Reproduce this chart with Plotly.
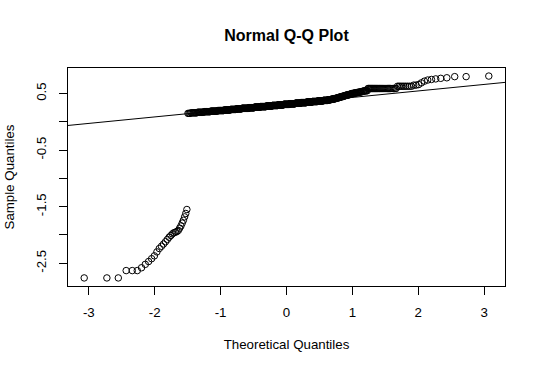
import numpy as np
import plotly.graph_objects as go
from statistics import NormalDist

# ---- data (sorted sample values) ----
# lower tail cluster (31 smallest observations)
lower_values = [-2.76, -2.76, -2.76, -2.63, -2.63, -2.63, -2.58, -2.52, -2.47, -2.42,
                -2.37, -2.30, -2.24, -2.20, -2.16, -2.12, -2.08, -2.04, -2.01, -1.98,
                -1.96, -1.95, -1.94, -1.92, -1.88, -1.84, -1.79, -1.74, -1.68, -1.62,
                -1.55]
# main body: frequency table of (rounded) sample values
band_levels = [0.15, 0.16, 0.17, 0.18, 0.19, 0.20, 0.21, 0.22, 0.23, 0.24,
               0.25, 0.26, 0.27, 0.28, 0.29, 0.30, 0.31, 0.32, 0.33, 0.34,
               0.35, 0.36, 0.37, 0.38, 0.39, 0.40, 0.41, 0.42, 0.43, 0.44,
               0.45, 0.46, 0.47, 0.48, 0.49, 0.50, 0.51, 0.52, 0.53, 0.54,
               0.55, 0.59, 0.63, 0.65, 0.66, 0.69, 0.72, 0.74, 0.75, 0.76,
               0.77, 0.78, 0.80, 0.81]
band_counts = [3, 7, 8, 9, 11, 11, 12, 12, 12, 16,
               14, 15, 16, 16, 16, 16, 17, 16, 15, 16,
               15, 14, 14, 11, 7, 6, 5, 4, 4, 4,
               4, 3, 4, 4, 3, 4, 5, 4, 4, 3,
               5, 29, 9, 2, 1, 1, 1, 1, 1, 1,
               1, 1, 2, 1]

x_tick_vals = [-3, -2, -1, 0, 1, 2, 3]
x_tick_text = ["-3", "-2", "-1", "0", "1", "2", "3"]
y_tick_vals = [-2.5, -2.0, -1.5, -1.0, -0.5, 0.0, 0.5]
y_tick_text = ["-2.5", "", "-1.5", "", "-0.5", "", "0.5"]

title_text = "Normal Q-Q Plot"
x_title = "Theoretical Quantiles"
y_title = "Sample Quantiles"

# ---- Q-Q computation (as R's qqnorm / qqline) ----
sample = np.sort(np.concatenate([np.array(lower_values),
                                 np.repeat(band_levels, band_counts)]))
n = len(sample)
nd = NormalDist()
theo = np.array([nd.inv_cdf((i - 0.5) / n) for i in range(1, n + 1)])

yq = np.quantile(sample, [0.25, 0.75])
xq = np.array([nd.inv_cdf(0.25), nd.inv_cdf(0.75)])
slope = (yq[1] - yq[0]) / (xq[1] - xq[0])
intercept = yq[0] - slope * xq[0]


def rlim(v):
    lo, hi = float(np.min(v)), float(np.max(v))
    d = 0.04 * (hi - lo)
    return [lo - d, hi + d]


xlim = rlim(theo)
ylim = rlim(sample)
line_x = np.array(xlim)
line_y = intercept + slope * line_x

FONT = "Liberation Sans, Arial, Helvetica, sans-serif"

fig = go.Figure()
fig.add_trace(go.Scatter(
    x=theo, y=sample, mode="markers",
    marker=dict(symbol="circle-open", size=6.5, color="black",
                line=dict(color="black", width=1)),
    hoverinfo="x+y", showlegend=False))
fig.add_trace(go.Scatter(
    x=line_x, y=line_y, mode="lines",
    line=dict(color="black", width=1), showlegend=False, hoverinfo="skip"))

axis_common = dict(
    showline=True, linecolor="black", linewidth=1, mirror=True,
    ticks="outside", ticklen=8, tickwidth=1, tickcolor="black",
    showgrid=False, zeroline=False, automargin=False,
    tickfont=dict(family=FONT, size=13.3, color="black"),
)

fig.update_layout(
    width=540, height=371,
    margin=dict(l=68, r=35, t=68, b=85),
    paper_bgcolor="white", plot_bgcolor="white",
    title=dict(text="<b>" + title_text + "</b>", x=0.5, xref="paper",
               y=1 - 35 / 371, yanchor="middle",
               font=dict(family=FONT, size=16, color="black")),
    xaxis=dict(range=xlim, tickvals=x_tick_vals, ticktext=x_tick_text,
               ticklabelstandoff=6,
               title=dict(text=x_title, standoff=20,
                          font=dict(family=FONT, size=13.3, color="black")),
               **axis_common),
    yaxis=dict(range=ylim, tickvals=y_tick_vals, ticktext=y_tick_text,
               tickangle=-90, ticklabelstandoff=8,
               title=dict(text=y_title, standoff=16,
                          font=dict(family=FONT, size=13.3, color="black")),
               **axis_common),
)

fig.write_html("out.html",
               config={"displayModeBar": False},
               post_script="document.body.style.margin='0';"
                           "document.body.style.padding='0';")
